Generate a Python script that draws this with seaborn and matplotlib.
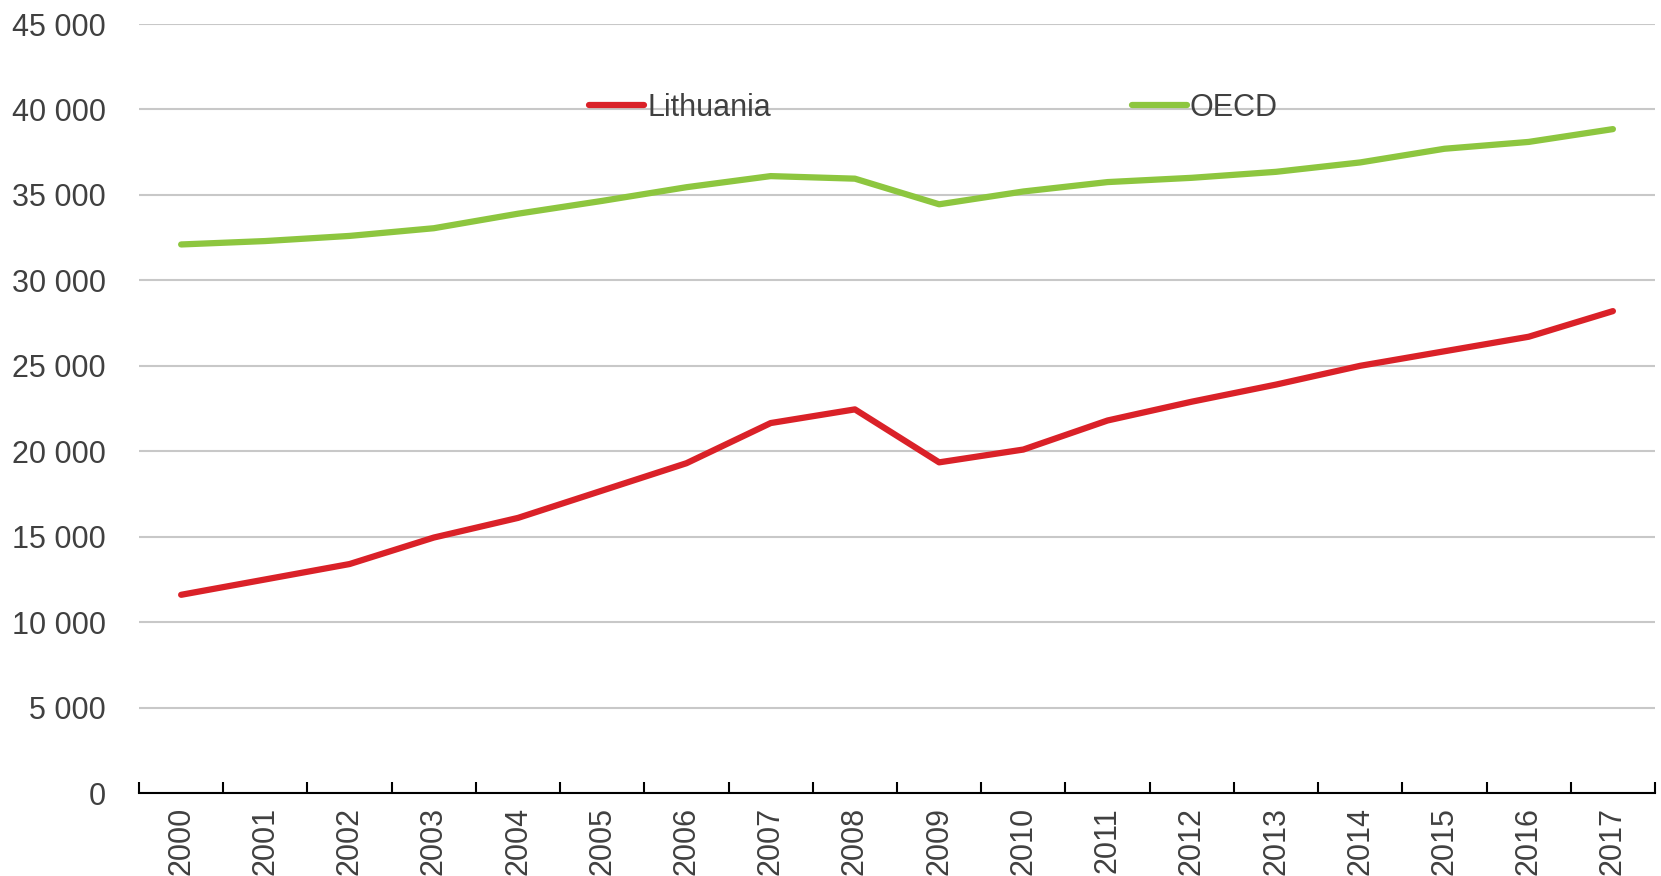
import pandas as pd
import numpy as np
import matplotlib.pyplot as plt
import seaborn as sns

# data
years = [str(y) for y in range(2000, 2018)]
lithuania = [11600, 12500, 13400, 14950, 16100, 17700, 19300, 21650, 22450,
             19350, 20100, 21800, 22900, 23900, 25000, 25850, 26700, 28200]
oecd = [32100, 32300, 32600, 33050, 33900, 34650, 35450, 36100, 35950,
        34450, 35200, 35750, 36000, 36350, 36900, 37700, 38100, 38850]
y_ticks = list(range(0, 45001, 5000))

sns.set_theme(style="white")
plt.rcParams["font.family"] = ["Liberation Sans", "DejaVu Sans"]

df = pd.DataFrame({
    "year": years * 2,
    "pos": list(range(len(years))) * 2,
    "value": lithuania + oecd,
    "country": ["Lithuania"] * len(years) + ["OECD"] * len(years),
})

fig = plt.figure(figsize=(16.61, 8.76), dpi=100)
ax = fig.add_axes([0.0837, 0.0947, 0.9127, 0.8779])

sns.lineplot(data=df, x="pos", y="value", hue="country",
             palette={"Lithuania": "#DA2128", "OECD": "#8DC63F"},
             linewidth=4.5, ax=ax, legend=True)
for ln in ax.get_lines():
    ln.set_solid_capstyle("round")
    ln.set_solid_joinstyle("round")

ax.set_xlim(-0.5, len(years) - 0.5)
ax.set_ylim(0, 45000)
ax.set_yticks(y_ticks)
ax.set_yticklabels([f"{v:,}".replace(",", " ") for v in y_ticks])
ax.set_xticks(range(len(years)))
ax.set_xticklabels(years, rotation=90)
ax.set_xticks(np.arange(-0.5, len(years)), minor=True)

ax.grid(axis="y", color="#c8c8c8", linewidth=1.5)
ax.set_axisbelow(True)
for s in ["left", "right", "top"]:
    ax.spines[s].set_visible(False)
ax.spines["bottom"].set_color("black")
ax.spines["bottom"].set_linewidth(1.5)

ax.tick_params(axis="y", length=0, pad=24, labelsize=22, labelcolor="#404040")
ax.tick_params(axis="x", which="major", length=0, pad=10, labelsize=22, labelcolor="#404040")
ax.tick_params(axis="x", which="minor", direction="in", length=8, width=1.5,
               color="black", bottom=True)
ax.set_xlabel("")
ax.set_ylabel("")

handles, labels = ax.get_legend_handles_labels()
ax.legend(handles, labels, loc="center", bbox_to_anchor=(0.524, 0.891), ncol=2,
          frameon=False, fontsize=22, handlelength=1.8, handletextpad=0.1,
          columnspacing=11.8, labelcolor="#404040")

plt.savefig("out.png", dpi=100)
